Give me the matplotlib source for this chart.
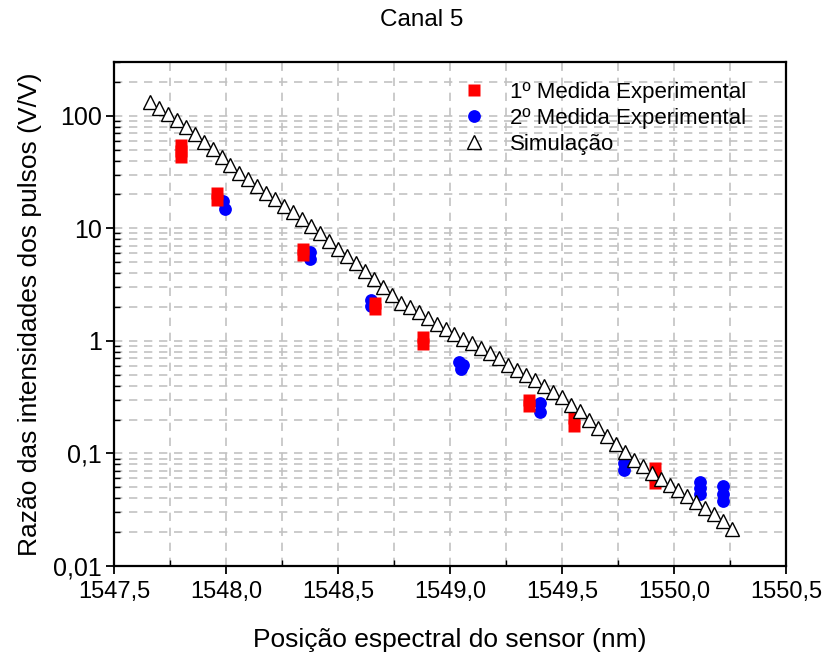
import matplotlib
matplotlib.use("Agg")
import matplotlib.pyplot as plt
import matplotlib.ticker as mticker
from matplotlib import font_manager as fm

# ---------------- data ----------------
title = "Canal 5"
xlabel = "Posição espectral do sensor (nm)"
ylabel = "Razão das intensidades dos pulsos (V/V)"
legend_labels = ["1º Medida Experimental", "2º Medida Experimental", "Simulação"]

sim_x = [1547.66, 1547.70, 1547.74, 1547.78, 1547.82, 1547.86, 1547.90, 1547.94,
         1547.98, 1548.02, 1548.06, 1548.10, 1548.14, 1548.18, 1548.22, 1548.26,
         1548.30, 1548.34, 1548.38, 1548.42, 1548.46, 1548.50, 1548.54, 1548.58,
         1548.62, 1548.66, 1548.70, 1548.74, 1548.78, 1548.82, 1548.86, 1548.90,
         1548.94, 1548.98, 1549.02, 1549.06, 1549.10, 1549.14, 1549.18, 1549.22,
         1549.26, 1549.30, 1549.34, 1549.38, 1549.42, 1549.46, 1549.50, 1549.54,
         1549.58, 1549.62, 1549.66, 1549.70, 1549.74, 1549.78, 1549.82, 1549.86,
         1549.90, 1549.94, 1549.98, 1550.02, 1550.06, 1550.10, 1550.14, 1550.18,
         1550.22, 1550.26]
sim_y = [132, 117, 102.6, 90.8, 79.4, 68.3, 58.8, 50.2,
         43.0, 36.6, 31.2, 27.2, 23.8, 20.7, 18.1, 15.8,
         14.0, 12.2, 10.5, 9.04, 7.74, 6.61, 5.70, 4.90,
         4.19, 3.58, 3.03, 2.55, 2.19, 1.98, 1.79, 1.58,
         1.41, 1.27, 1.15, 1.04, 0.95, 0.857, 0.774, 0.70,
         0.61, 0.553, 0.501, 0.449, 0.40, 0.354, 0.315, 0.27,
         0.236, 0.20, 0.169, 0.143, 0.122, 0.1025, 0.0883, 0.0766,
         0.0668, 0.0587, 0.0526, 0.0469, 0.0418, 0.037, 0.0327, 0.0289,
         0.0251, 0.0214]

m1_x = [1547.80, 1547.80, 1547.80, 1547.96, 1547.96, 1548.343, 1548.343,
        1548.666, 1548.666, 1548.879, 1548.879, 1549.353, 1549.353,
        1549.555, 1549.555, 1549.914, 1549.914, 1549.914]
m1_y = [54.7, 49.0, 43.4, 20.7, 17.8, 6.58, 5.79,
        2.16, 1.91, 1.085, 0.94, 0.30, 0.265,
        0.205, 0.176, 0.0736, 0.0635, 0.0547]

m2_x = [1547.985, 1547.995, 1548.373, 1548.373, 1548.646, 1548.646,
        1549.040, 1549.056, 1549.050, 1549.40, 1549.40, 1549.779, 1549.779,
        1550.114, 1550.114, 1550.114, 1550.22, 1550.22, 1550.22]
m2_y = [17.5, 14.7, 6.1, 5.36, 2.32, 2.04,
        0.65, 0.61, 0.565, 0.281, 0.234, 0.0824, 0.0714,
        0.0556, 0.0492, 0.0436, 0.0513, 0.0438, 0.0375]

x_ticks = [1547.5, 1548.0, 1548.5, 1549.0, 1549.5, 1550.0, 1550.5]
y_ticks = [0.01, 0.1, 1, 10, 100]
y_tick_labels = ["0,01", "0,1", "1", "10", "100"]

# ---------------- style ----------------
plt.rcParams['font.family'] = ['Liberation Sans', 'DejaVu Sans']

W, H = 826, 659
fig = plt.figure(figsize=(W / 100, H / 100), dpi=100)
L, R, T, B = 114, 786, 62, 566
ax = fig.add_axes([L / W, 1 - B / H, (R - L) / W, (B - T) / H])

ax.set_yscale('log')
ax.set_xlim(1547.5, 1550.5)
ax.set_ylim(0.01, 300)

grid_kw = dict(color='#c2c2c2', linewidth=1.2, linestyle=(0, (5, 4)))
ax.xaxis.set_major_locator(mticker.FixedLocator(x_ticks))
ax.xaxis.set_minor_locator(mticker.MultipleLocator(0.25))
ax.yaxis.set_major_locator(mticker.FixedLocator(y_ticks))
ax.yaxis.set_minor_locator(mticker.LogLocator(base=10, subs=range(2, 10), numticks=20))
ax.grid(True, which='both', axis='both', **grid_kw)
ax.set_axisbelow(True)

ax.xaxis.set_major_formatter(mticker.FuncFormatter(lambda v, p: f"{v:.1f}".replace('.', ',')))
ax.yaxis.set_major_formatter(mticker.FixedFormatter(y_tick_labels))
ax.yaxis.set_minor_formatter(mticker.NullFormatter())

ax.tick_params(which='major', direction='out', length=6, width=1.3, colors='black')
ax.tick_params(which='minor', direction='in', length=4, width=1.0, colors='black')
ax.tick_params(axis='y', which='major', labelsize=18, pad=3)
ax.tick_params(axis='x', which='major', labelsize=17, pad=5)

for s in ax.spines.values():
    s.set_linewidth(1.6)
    s.set_color('black')

h2, = ax.plot(m2_x, m2_y, linestyle='none', marker='o', markersize=9.2,
              markerfacecolor='#0000ff', markeredgecolor='none', zorder=3)
h1, = ax.plot(m1_x, m1_y, linestyle='none', marker='s', markersize=8.3,
              markerfacecolor='#ff0000', markeredgecolor='none', zorder=4)
h3, = ax.plot(sim_x, sim_y, linestyle='none', marker='^', markersize=10,
              markerfacecolor='white', markeredgecolor='black', markeredgewidth=1.0, zorder=5)

leg = ax.legend([h1, h2, h3], legend_labels, loc='upper left',
                bbox_to_anchor=(463 / W, 1 - 82 / H), bbox_transform=fig.transFigure,
                frameon=False, fontsize=16, handlelength=1.0, handletextpad=1.13,
                borderpad=0, borderaxespad=0, labelspacing=0.22, markerscale=1.0)

ax.set_xlabel(xlabel, fontsize=19, labelpad=18)
ax.set_ylabel(ylabel, fontsize=19, labelpad=8)
fig.text(422 / W, 1 - 20 / H, title, ha='center', va='center', fontsize=17.5)

fig.savefig('out.png', dpi=100)
